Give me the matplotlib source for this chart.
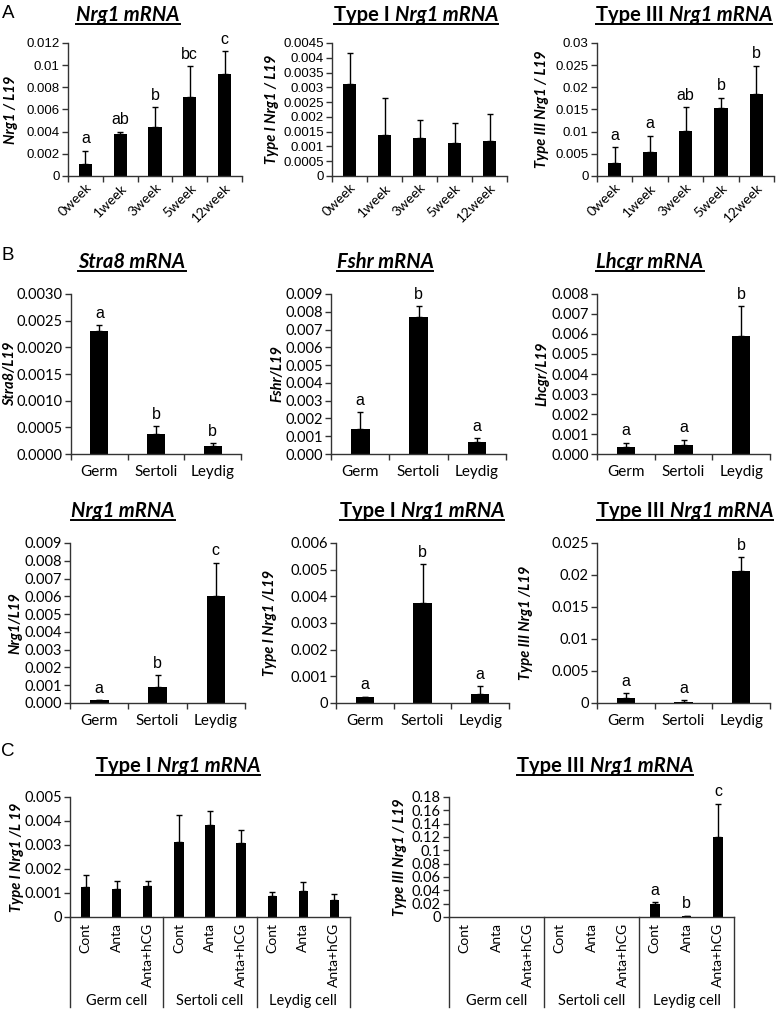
import numpy as np
import matplotlib
matplotlib.use("Agg")
import matplotlib.pyplot as plt
from matplotlib.lines import Line2D
from matplotlib.ticker import FuncFormatter

W, H = 777, 1010

# ---- data ----
weeks = ["0week", "1week", "3week", "5week", "12week"]
cells = ["Germ", "Sertoli", "Leydig"]
treat = ["Cont", "Anta", "Anta+hCG"] * 3
groups = ["Germ cell", "Sertoli cell", "Leydig cell"]

nrg1_wk = [0.0011, 0.0038, 0.0044, 0.0071, 0.0092]
nrg1_wk_err = [0.0012, 0.0002, 0.0018, 0.0028, 0.0021]
nrg1_wk_sig = ["a", "ab", "b", "bc", "c"]

t1_wk = [0.0031, 0.0014, 0.0013, 0.0011, 0.0012]
t1_wk_err = [0.00105, 0.00125, 0.0006, 0.0007, 0.0009]

t3_wk = [0.0030, 0.0054, 0.0102, 0.0153, 0.0186]
t3_wk_err = [0.0036, 0.0037, 0.0054, 0.0024, 0.0063]
t3_wk_sig = ["a", "a", "ab", "b", "b"]

stra8 = [0.0023, 0.00038, 0.00015]
stra8_err = [0.00011, 0.00014, 0.00006]
stra8_sig = ["a", "b", "b"]

fshr = [0.0014, 0.0077, 0.00065]
fshr_err = [0.00095, 0.0006, 0.00023]
fshr_sig = ["a", "b", "a"]

lhcgr = [0.00033, 0.00047, 0.0059]
lhcgr_err = [0.00024, 0.00025, 0.0015]
lhcgr_sig = ["a", "a", "b"]

nrg1_cell = [0.00015, 0.0009, 0.0060]
nrg1_cell_err = [0.00003, 0.00065, 0.0019]
nrg1_cell_sig = ["a", "b", "c"]

t1_cell = [0.00022, 0.00375, 0.00035]
t1_cell_err = [0.00002, 0.00147, 0.00027]
t1_cell_sig = ["a", "b", "a"]

t3_cell = [0.0008, 0.0002, 0.0206]
t3_cell_err = [0.0008, 0.0003, 0.0022]
t3_cell_sig = ["a", "a", "b"]

t1_treat = [0.00125, 0.00117, 0.00128, 0.00312, 0.00385, 0.00308, 0.00088, 0.00108, 0.00070]
t1_treat_err = [0.00048, 0.00031, 0.00020, 0.00113, 0.00058, 0.00054, 0.00017, 0.00037, 0.00025]

t3_treat = [0.0003, 0.0003, 0.0003, 0.0003, 0.0003, 0.0003, 0.0198, 0.0015, 0.12]
t3_treat_err = [0, 0, 0, 0, 0, 0, 0.0022, 0.0005, 0.05]
t3_treat_sig = ["", "", "", "", "", "", "a", "b", "c"]

CAL = "Lato"
ARI = "Liberation Sans"
AXC = "#333333"

fig = plt.figure(figsize=(W / 100, H / 100), dpi=100)
renderer = fig.canvas.get_renderer()


def rect(x0, y0, x1, y1):
    return [x0 / W, 1 - y1 / H, (x1 - x0) / W, (y1 - y0) / H]


def general(v, pos):
    return "0" if v == 0 else "{:g}".format(round(v, 6))


def add_title(cx, base, parts, size=14.5):
    texts, widths = [], []
    for s, it in parts:
        t = fig.text(0, 1 - base / H, s, fontsize=size, fontweight="bold",
                     fontstyle="italic" if it else "normal", family=CAL,
                     va="baseline", ha="left")
        texts.append(t)
        widths.append(t.get_window_extent(renderer).width)
    gap = 5
    total = sum(widths) + gap * (len(parts) - 1)
    x = cx - total / 2
    for t, w in zip(texts, widths):
        t.set_x(x / W)
        x += w + gap
    yl = 1 - (base + 2.5) / H
    fig.add_artist(Line2D([(cx - total / 2) / W, (cx + total / 2) / W], [yl, yl],
                          color="black", lw=1.4))


def panel(r, labels, vals, errs, ymax, step, fmt, ylabel, ylx, sig=None,
          width=0.32, tickfont=CAL, tsize=10.5):
    ax = fig.add_axes(rect(*r))
    n = len(vals)
    x = np.arange(n)
    ax.bar(x, vals, width=width, color="black", zorder=2)
    errs = np.array(errs)
    m = errs > 0
    ax.errorbar(x[m], np.array(vals)[m], yerr=[np.zeros(m.sum()), errs[m]],
                fmt="none", ecolor="black", elinewidth=1, capsize=2.5, capthick=1)
    ax.set_xlim(-0.5, n - 0.5)
    ax.set_ylim(0, ymax)
    ax.set_yticks(np.arange(0, ymax + step / 2, step))
    ax.yaxis.set_major_formatter(FuncFormatter(fmt))
    for s in ["top", "right"]:
        ax.spines[s].set_visible(False)
    for s in ["left", "bottom"]:
        ax.spines[s].set_color(AXC)
        ax.spines[s].set_linewidth(1)
    ax.tick_params(axis="y", direction="out", length=4, width=1, color=AXC,
                   labelsize=tsize, labelfontfamily=tickfont, pad=2)
    ax.set_xticks(x)
    ax.set_xticklabels(labels)
    ax.set_xticks(np.arange(n + 1) - 0.5, minor=True)
    ax.tick_params(axis="x", which="major", length=0, labelfontfamily=CAL,
                   labelsize=11, pad=8)
    ax.tick_params(axis="x", which="minor", direction="out", length=4, width=1,
                   color=AXC)
    if sig:
        for xi, v, e, s in zip(x, vals, errs, sig):
            if s:
                ax.annotate(s, (xi, v + e), xytext=(0, 3), textcoords="offset points",
                            ha="center", va="bottom", fontsize=11.5, family=ARI)
    cy = (r[1] + r[3]) / 2
    fig.text(ylx / W, 1 - cy / H, ylabel, rotation=90, ha="center", va="center",
             fontsize=10.5, fontweight="bold", fontstyle="italic", family=CAL)
    return ax


# ---- panel A ----
for r, v, e, ymax, step, yl, ylx, sg in [
    ((68, 43, 242, 176), nrg1_wk, nrg1_wk_err, 0.012, 0.002, "Nrg1 / L19", 11, nrg1_wk_sig),
    ((332, 43, 507, 176), t1_wk, t1_wk_err, 0.0045, 0.0005, "Type I Nrg1 / L19", 272, None),
    ((597, 43, 774, 176), t3_wk, t3_wk_err, 0.03, 0.005, "Type III Nrg1 / L19", 542, t3_wk_sig),
]:
    ax = panel(r, weeks, v, e, ymax, step, general, yl, ylx, sg, width=0.38,
               tickfont=ARI, tsize=9.5)
    ax.tick_params(axis="x", which="major", pad=4)
    for lb in ax.get_xticklabels():
        lb.set_rotation(45)
        lb.set_ha("right")
        lb.set_rotation_mode("anchor")
        lb.set_fontsize(10)

add_title(128, 21, [("Nrg1 mRNA", True)])
add_title(416, 21, [("Type I", False), ("Nrg1 mRNA", True)])
add_title(684, 21, [("Type III", False), ("Nrg1 mRNA", True)])

# ---- panel B ----
f4 = lambda v, p: "{:.4f}".format(v)
f3 = lambda v, p: "{:.3f}".format(v)
panel((71, 294, 241, 454), cells, stra8, stra8_err, 0.003, 0.0005, f4, "Stra8/L19", 10, stra8_sig)
panel((331, 294, 506, 454), cells, fshr, fshr_err, 0.009, 0.001, f3, "Fshr/L19", 277, fshr_sig)
panel((597, 294, 770, 454), cells, lhcgr, lhcgr_err, 0.008, 0.001, f3, "Lhcgr/L19", 542, lhcgr_sig)
panel((70, 543, 245, 703), cells, nrg1_cell, nrg1_cell_err, 0.009, 0.001, f3, "Nrg1/L19", 15, nrg1_cell_sig)
panel((336, 543, 509, 703), cells, t1_cell, t1_cell_err, 0.006, 0.001, general, "Type I Nrg1 /L19", 270, t1_cell_sig)
panel((597, 543, 770, 703), cells, t3_cell, t3_cell_err, 0.025, 0.005, general, "Type III Nrg1 /L19", 526, t3_cell_sig)

add_title(132, 268, [("Stra8 mRNA", True)])
add_title(385, 268, [("Fshr mRNA", True)])
add_title(650, 268, [("Lhcgr mRNA", True)])
add_title(123, 517, [("Nrg1 mRNA", True)])
add_title(422, 517, [("Type I", False), ("Nrg1 mRNA", True)])
add_title(685, 517, [("Type III", False), ("Nrg1 mRNA", True)])

# ---- panel C ----
for r, v, e, ymax, step, yl, ylx, sg in [
    ((70, 797, 350, 917), t1_treat, t1_treat_err, 0.005, 0.001, "Type I Nrg1 /L 19", 17, None),
    ((449, 797, 734, 917), t3_treat, t3_treat_err, 0.18, 0.02, "Type III Nrg1 / L19", 400, t3_treat_sig),
]:
    ax = panel(r, treat, v, e, ymax, step, general, yl, ylx, sg, width=0.3)
    ax.tick_params(axis="x", which="minor", length=0)
    ax.tick_params(axis="x", which="major", pad=4)
    for lb in ax.get_xticklabels():
        lb.set_rotation(90)
        lb.set_fontsize(10)
    tr = ax.get_xaxis_transform()
    for xb in [-0.5, 2.5, 5.5, 8.5]:
        ax.plot([xb, xb], [0, -0.75], transform=tr, clip_on=False, color=AXC, lw=1)
    for gi, g in enumerate(groups):
        ax.text(gi * 3 + 1, -0.70, g, transform=tr, ha="center", va="center",
                fontsize=10.5, family=CAL)

add_title(178, 772, [("Type I", False), ("Nrg1 mRNA", True)])
add_title(605, 772, [("Type III", False), ("Nrg1 mRNA", True)])

# panel letters
for lt, (px, py) in zip("ABC", [(8, 13), (8, 255), (8, 752)]):
    fig.text(px / W, 1 - py / H, lt, ha="center", va="center", fontsize=13.5, family=ARI)

fig.savefig("out.png", dpi=100)
